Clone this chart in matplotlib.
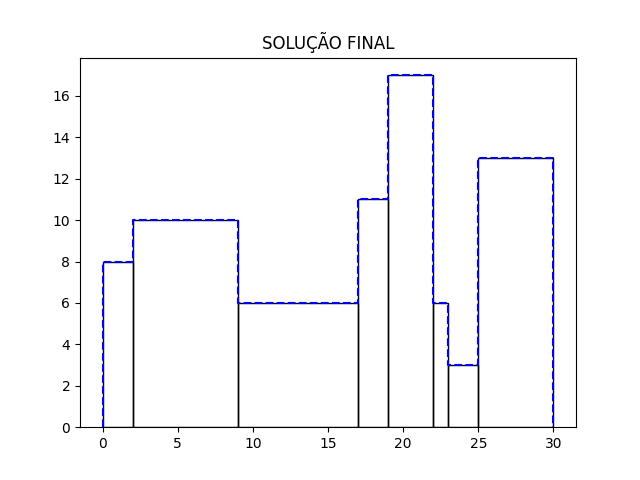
import matplotlib
matplotlib.use("Agg")
import matplotlib.pyplot as plt

# prédios: esquerda, direita, altura
lefts = [0, 2, 9, 17, 19, 22, 23, 25]
rights = [2, 9, 17, 19, 22, 23, 25, 30]
heights = [8, 10, 6, 11, 17, 6, 3, 13]

# contorno final (skyline)
sky_x = [0, 0, 2, 9, 17, 19, 22, 23, 25, 30]
sky_y = [0, 8, 10, 6, 11, 17, 6, 3, 13, 0]

fig, ax = plt.subplots(figsize=(6.4, 4.8), dpi=100)
widths = [r - l for l, r in zip(lefts, rights)]
ax.bar(lefts, heights, width=widths, align="edge", fill=False,
       edgecolor="black", linewidth=1)
ax.plot(sky_x, sky_y, drawstyle="steps-post", color="blue", linestyle="--", linewidth=1.5)
ax.set_title("SOLUÇÃO FINAL")
fig.savefig("out.png")
